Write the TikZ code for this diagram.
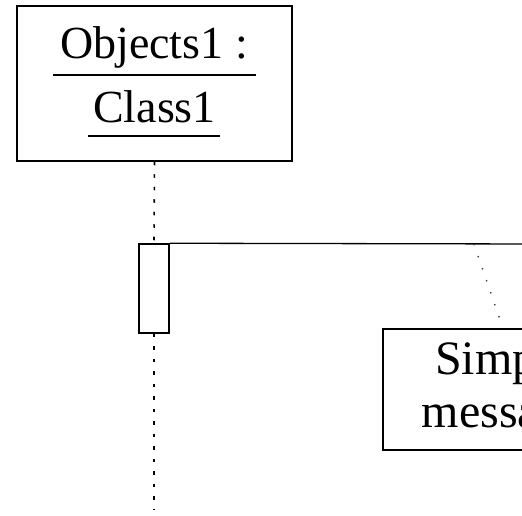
\documentclass[tikz,border=0pt]{standalone}
\usepackage{fontspec}
\setmainfont{Liberation Serif}
\begin{document}
\begin{tikzpicture}[x=1pt,y=-1pt,
  box/.style={draw, line width=1.5pt, inner sep=0pt},
  lifeline/.style={line width=1.6pt, dash pattern=on 3.5pt off 9pt},
  anchorline/.style={line width=1.4pt, dash pattern=on 1.4pt off 11.3pt, black!75},
  msgline/.style={line width=1.3pt},
  uline/.style={line width=1.3pt},
  objfont/.style={font=\fontsize{46}{52}\selectfont},
  notefont/.style={font=\fontsize{48}{53}\selectfont}]
\useasboundingbox (0,0) rectangle (522,516);
\clip (0,0) rectangle (522,516);
% object box
\node[box, minimum width=275pt, minimum height=155pt] (obj) at (154.5,83.5) {};
\node[objfont, anchor=base, inner sep=0pt] (objname) at (154,59) {Objects1 :};
\node[objfont, anchor=base, inner sep=0pt] (clsname) at (154.5,123) {Class1};
\draw[uline] (53,75) -- (256,75);
\draw[uline] (88,136) -- (220,136);
% activation
\node[box, minimum width=30pt, minimum height=89pt] (act) at (154,288.5) {};
\coordinate (lifeend) at (154,509);
\draw[lifeline] (obj.south) -- (act.north);
\draw[lifeline] (act.south) -- (lifeend);
% message
\coordinate (msgend) at (540,244);
\draw[msgline] (act.north east) -- (msgend);
% note
\node[box, notefont, minimum width=240pt, minimum height=121pt, align=center] (note) at (503,389.5) {Simple\\message};
\coordinate (anc) at (474,244);
\draw[anchorline, shorten >=10pt] (anc) -- (note.north);
\end{tikzpicture}
\end{document}
